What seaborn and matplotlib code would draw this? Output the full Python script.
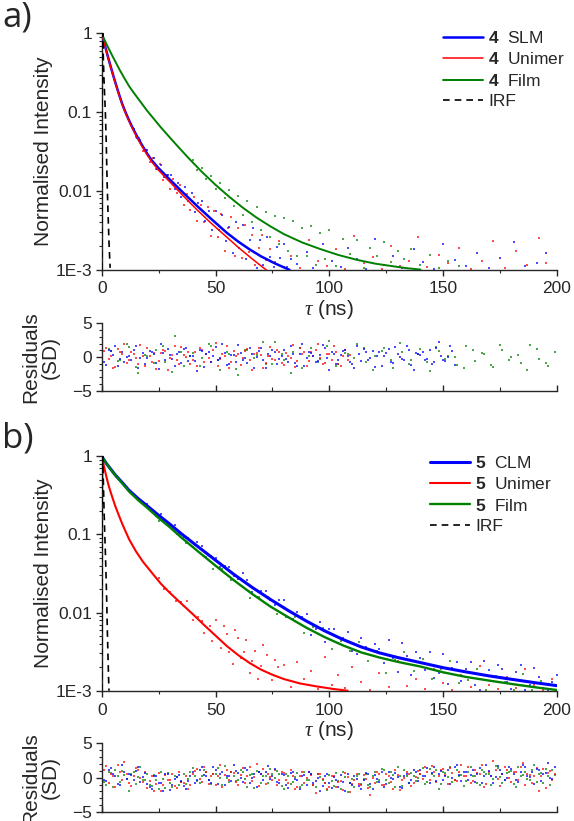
import matplotlib
matplotlib.use("Agg")
import matplotlib.pyplot as plt
from matplotlib.ticker import FixedLocator, MultipleLocator, NullFormatter
import pandas as pd
import seaborn as sns

# ---------------- fitted decay curves ----------------
fit_a_blue_t = [0, 1, 2, 3, 4, 5, 6, 7, 8, 9, 10, 11, 12, 13, 14, 16, 18, 20, 22, 25, 30, 36, 42, 48, 55,
                60, 65, 70, 76, 82.5]
fit_a_blue_i = [1.0, 0.776, 0.605, 0.473, 0.373, 0.296, 0.237, 0.191, 0.155, 0.127, 0.107, 0.0912, 0.0785,
                0.0681, 0.0596, 0.0462, 0.0367, 0.0295, 0.0243, 0.0193, 0.0138, 0.00933, 0.00638, 0.00442,
                0.00292, 0.00226, 0.0018, 0.00147, 0.0012, 0.00099]
fit_a_red_t = [0, 1, 2, 3, 4, 5, 6, 7, 8, 9, 10, 11, 12, 13, 14, 16, 18, 20, 22, 25, 30, 36, 42, 48, 55,
               60, 65, 70, 72.5]
fit_a_red_i = [1.0, 0.776, 0.6, 0.468, 0.367, 0.292, 0.233, 0.187, 0.152, 0.125, 0.105, 0.0891, 0.0766,
               0.0664, 0.0579, 0.0449, 0.0355, 0.0285, 0.0233, 0.0182, 0.0129, 0.00851, 0.00569, 0.00389,
               0.00257, 0.00191, 0.00145, 0.00111, 0.00098]
fit_a_green_t = [0, 1, 2, 3, 4.4, 6, 8, 10, 12, 14, 16, 20, 26, 32, 38, 44, 50, 56, 62, 68, 74, 80, 88,
                 96, 104, 112, 120, 128, 134, 140]
fit_a_green_i = [1.0, 0.855, 0.741, 0.646, 0.537, 0.437, 0.339, 0.268, 0.214, 0.177, 0.148, 0.1035, 0.0638,
                 0.0407, 0.0263, 0.0174, 0.0119, 0.0084, 0.0061, 0.00457, 0.00355, 0.00282, 0.00221,
                 0.00182, 0.00153, 0.00133, 0.00119, 0.0011, 0.00104, 0.001]

fit_b_t = [0, 2, 4, 6, 9, 12, 16, 20, 25, 30, 35, 42, 50, 58, 66, 74, 82, 90, 98, 106, 114, 122, 130,
           140, 150, 160, 170, 180, 190, 200]
fit_b_blue_i = [1.0, 0.813, 0.684, 0.575, 0.462, 0.367, 0.288, 0.232, 0.176, 0.135, 0.102, 0.0708, 0.0468,
                0.0309, 0.0211, 0.0148, 0.0106, 0.00776, 0.00582, 0.00452, 0.00363, 0.00305, 0.00266,
                0.00229, 0.00197, 0.00174, 0.00155, 0.0014, 0.00127, 0.00116]
fit_b_green_i = [1.0, 0.813, 0.676, 0.569, 0.452, 0.355, 0.275, 0.219, 0.162, 0.123, 0.0912, 0.0617, 0.0398,
                 0.026, 0.0174, 0.012, 0.00871, 0.00638, 0.00484, 0.0038, 0.00309, 0.00266, 0.00234,
                 0.00204, 0.00172, 0.0015, 0.00135, 0.00122, 0.00111, 0.00102]
fit_b_red_t = [0, 1, 2, 3, 4, 5, 6, 7, 8, 9, 10, 12, 15, 18, 22, 26, 30, 35, 40, 45, 50, 55, 60, 65, 70,
               75, 80, 87, 94, 101, 108]
fit_b_red_i = [1.0, 0.741, 0.556, 0.427, 0.343, 0.279, 0.229, 0.192, 0.162, 0.137, 0.1175, 0.0871, 0.061,
               0.0452, 0.0324, 0.0234, 0.0178, 0.013, 0.00955, 0.00692, 0.00507, 0.00372, 0.00285,
               0.00226, 0.00186, 0.0016, 0.00141, 0.00124, 0.00114, 0.00106, 0.001]

# instrument response functions
irf_a_t = [0.05, 0.15, 0.3, 0.45, 0.7, 1.0, 1.3, 1.6, 2.0, 2.4, 2.8, 3.2, 3.5, 3.7]
irf_a_i = [0.001, 0.05, 0.6, 1.0, 0.5, 0.26, 0.16, 0.1, 0.04, 0.012, 0.005, 0.0022, 0.0014, 0.00105]
irf_b_t = [0.05, 0.15, 0.3, 0.45, 0.7, 1.0, 1.3, 1.6, 1.9, 2.2, 2.5, 2.8, 3.0, 3.2]
irf_b_i = [0.001, 0.05, 0.6, 1.0, 0.5, 0.22, 0.11, 0.06, 0.03, 0.014, 0.0055, 0.0025, 0.0015, 0.001]

# ---------------- measured decay points ----------------
sc_a_blue_t = [14, 15.5, 17, 18.5, 20, 21.5, 23, 24.5, 26, 27.5, 29, 30.5, 32, 33.5, 35, 36.5, 38, 39.5,
               41, 42.5, 44, 45.5, 47, 48.5, 50, 51.5, 53, 54.5, 56, 57.5, 59, 60.5, 62, 63.5, 65, 66.5,
               68, 69.5, 71, 72.5, 74, 75.5, 77, 78.5, 80, 81.5, 83,
               86, 90, 93, 97, 101, 105, 108, 112, 116, 120, 124, 128, 132, 137, 141, 146, 150, 155, 160,
               165, 170, 175, 181, 186, 191, 195]
sc_a_blue_i = [0.0617, 0.0473, 0.0447, 0.0347, 0.0331, 0.0248, 0.0263, 0.0189, 0.0211, 0.0148, 0.0157,
               0.0158, 0.0106, 0.0124, 0.0083, 0.0111, 0.0075, 0.0094, 0.0054, 0.0071, 0.0074, 0.00417,
               0.0056, 0.00316, 0.0055, 0.00318, 0.00495, 0.00229, 0.0035, 0.00163, 0.00398, 0.00185,
               0.00367, 0.00136, 0.00237, 0.00339, 0.00106, 0.0024, 0.00114, 0.00258, 0.00145, 0.00109,
               0.00193, 0.0014, 0.00214, 0.00107, 0.00138,
               0.00118, 0.00165, 0.00104, 0.0021, 0.00128, 0.00108, 0.0019, 0.00135, 0.00102, 0.00245,
               0.00115, 0.0015, 0.00106, 0.0018, 0.00125, 0.00102, 0.0021, 0.00132, 0.0011, 0.0016,
               0.00104, 0.0014, 0.00225, 0.00112, 0.0012, 0.0016]
sc_a_red_t = [15, 16.5, 18, 19.5, 21, 22.5, 24, 25.5, 27, 28.5, 30, 31.5, 33, 34.5, 36, 37.5, 39, 40.5,
              42, 43.5, 45, 46.5, 48, 49.5, 51, 52.5, 54, 55.5, 57, 58.5, 60, 61.5, 63, 64.5, 66, 67.5,
              69, 70.5, 72, 74, 76, 78, 80,
              83, 87, 91, 95, 99, 103, 107, 111, 115, 119, 123, 127, 131, 135, 139, 143, 148, 152, 157,
              162, 167, 172, 177, 182, 187, 192, 195]
sc_a_red_i = [0.0479, 0.0468, 0.0316, 0.0327, 0.0234, 0.0263, 0.0191, 0.0216, 0.0138, 0.0158, 0.0106,
              0.0143, 0.0094, 0.012, 0.0066, 0.009, 0.00575, 0.0083, 0.00412, 0.00653, 0.00407, 0.00617,
              0.00263, 0.00562, 0.0026, 0.00501, 0.00174, 0.00335, 0.00468, 0.0015, 0.00339, 0.0014,
              0.00363, 0.00168, 0.00275, 0.00115, 0.00186, 0.00272, 0.00133, 0.0018, 0.00125, 0.0023,
              0.00108,
              0.0015, 0.00105, 0.0024, 0.0013, 0.00112, 0.0018, 0.00103, 0.0027, 0.0012, 0.00145, 0.00102,
              0.002, 0.0011, 0.0013, 0.0026, 0.00108, 0.00155, 0.0012, 0.0019, 0.00102, 0.0013, 0.0023,
              0.00105, 0.0017, 0.00115, 0.0025, 0.0012]
sc_a_green_t = [40, 42, 44, 46, 48, 50, 52, 54, 56, 58, 60, 62, 64, 66, 68, 70, 72, 74, 76, 78, 80, 82,
                84, 86, 88, 90, 92, 94, 96, 98, 100,
                103, 106, 109, 112, 115, 118, 121, 124, 127, 130, 133, 136,
                140, 144, 148, 152, 157]
sc_a_green_i = [0.0245, 0.0186, 0.0195, 0.014, 0.0155, 0.0106, 0.0124, 0.0082, 0.0101, 0.00646, 0.0085,
                0.00495, 0.00733, 0.00398, 0.0063, 0.00316, 0.00543, 0.00257, 0.00484, 0.00214, 0.00447,
                0.00174, 0.00412, 0.00148, 0.00335, 0.00148, 0.00355, 0.00115, 0.00288, 0.00138, 0.00316,
                0.0011, 0.00245, 0.00157, 0.00237, 0.00106, 0.00186, 0.00148, 0.00226, 0.00124, 0.0017,
                0.00138, 0.00182,
                0.00115, 0.00152, 0.00104, 0.0013, 0.0011]

sc_b_blue_t = [20, 24, 28, 32, 36, 40, 44, 48, 52, 56, 60, 64, 68, 72, 76, 80, 84, 88, 92, 96, 100, 104,
               108, 112, 116, 120, 124, 128, 132, 136, 140, 144, 148, 152, 156, 160, 164, 168, 172, 176,
               180, 184, 188, 192, 196, 200,
               22, 26, 30, 34, 38, 42, 46, 50, 54, 58, 62, 66, 70, 74, 78, 82, 86, 90, 94, 98, 102, 106,
               110, 114, 118, 122, 126, 130, 134, 138, 142, 146, 150, 154, 158, 162, 166, 170, 174, 178,
               182, 186, 190, 194, 198]
sc_b_blue_i = [0.245, 0.1726, 0.154, 0.1324, 0.0935, 0.0686, 0.0713, 0.0526, 0.0388, 0.0388, 0.0269, 0.0261,
               0.0157, 0.019, 0.01268, 0.0145, 0.00834, 0.00877, 0.00524, 0.00759, 0.00622, 0.00409,
               0.00571, 0.00296, 0.00359, 0.004, 0.00224, 0.00263, 0.00409, 0.00161, 0.00263, 0.00312,
               0.00169, 0.00121, 0.0023, 0.00191, 0.0012, 0.0024, 0.00132, 0.00192, 0.00104, 0.00214,
               0.00118, 0.0015, 0.00102, 0.0016,
               0.198, 0.181, 0.1321, 0.1014, 0.0908, 0.0791, 0.0508, 0.0506, 0.0391, 0.0294, 0.0321,
               0.01845, 0.0189, 0.01445, 0.01469, 0.00883, 0.01016, 0.00957, 0.00611, 0.00424, 0.00622,
               0.00468, 0.00323, 0.00472, 0.00283, 0.00338, 0.00452, 0.00176, 0.00275, 0.00311, 0.00185,
               0.00145, 0.00299, 0.00196, 0.00135, 0.00234, 0.00102, 0.00186, 0.00215, 0.0013, 0.00173,
               0.00101, 0.00193, 0.00107, 0.0013]
sc_b_green_t = [21, 25, 29, 33, 37, 41, 45, 49, 53, 57, 61, 65, 69, 73, 77, 81, 85, 89, 93, 97, 101, 105,
                109, 113, 117, 121, 125, 129, 133, 137, 141, 145, 149, 153, 157, 161, 165, 169, 173, 177,
                181, 185, 189, 193, 197]
sc_b_green_i = [0.2118, 0.1493, 0.1387, 0.1009, 0.0771, 0.0738, 0.0531, 0.0366, 0.0364, 0.0259, 0.0269,
                0.01556, 0.01585, 0.01567, 0.00959, 0.00885, 0.00889, 0.0054, 0.00655, 0.00628, 0.00342,
                0.00432, 0.00319, 0.00424, 0.00238, 0.00318, 0.00167, 0.00248, 0.00313, 0.0018, 0.00257,
                0.0014, 0.0019, 0.00239, 0.00127, 0.00136, 0.0019, 0.00103, 0.00154, 0.00131, 0.00102,
                0.00162, 0.00101, 0.00133, 0.00104]
sc_b_red_t = [25, 27.5, 30, 32.5, 35, 37.5, 40, 42.5, 45, 47.5, 50, 52.5, 55, 57.5, 60, 62.5, 65, 67.5,
              70, 72.5, 75, 77.5, 80,
              44, 48.5, 53.5, 56, 58.5, 61, 63.5, 66, 68.5, 71, 73.5, 76,
              83, 86, 89, 92, 95, 98, 101, 104, 107, 110, 114, 118, 122, 126, 130, 134, 138, 142, 146,
              150, 154, 158, 162, 166, 170, 174, 178, 182, 186, 190, 194, 198]
sc_b_red_i = [0.0274, 0.02, 0.0181, 0.014, 0.01365, 0.01403, 0.00813, 0.00871, 0.0055, 0.00679, 0.008,
              0.00354, 0.0053, 0.00217, 0.00473, 0.00311, 0.00167, 0.00324, 0.00206, 0.00286, 0.00138,
              0.00204, 0.00212,
              0.0079, 0.0043, 0.0068, 0.0031, 0.0059, 0.0026, 0.0045, 0.0024, 0.0014, 0.0038, 0.0017,
              0.0025,
              0.0011, 0.0023, 0.0014, 0.0018, 0.00105, 0.0027, 0.0012, 0.0016, 0.00108, 0.002, 0.0013,
              0.00102, 0.0017, 0.0011, 0.0024, 0.00115, 0.0014, 0.00104, 0.0019, 0.00125, 0.00103, 0.0016,
              0.0011, 0.0021, 0.00118, 0.00104, 0.0015, 0.00108, 0.0019, 0.0012, 0.00102, 0.0014]

# ---------------- weighted residuals (SD) ----------------
res_t = [0, 2, 4, 6, 8, 10, 12, 14, 16, 18, 20, 22, 24, 26, 28, 30, 32, 34, 36, 38, 40, 42, 44, 46, 48,
         50, 52, 54, 56, 58, 60, 62, 64, 66, 68, 70, 72, 74, 76, 78, 80, 82, 84, 86, 88, 90, 92, 94, 96,
         98, 100, 102, 104, 106, 108, 110, 112, 114, 116, 118, 120, 122, 124, 126, 128, 130, 132, 134,
         136, 138, 140, 142, 144, 146, 148, 150, 152, 154, 156, 158, 160, 162, 164, 166, 168, 170, 172,
         174, 176, 178, 180, 182, 184, 186, 188, 190, 192, 194, 196, 198]
res_t2 = [1, 3, 5, 7, 9, 11, 13, 15, 17, 19, 21, 23, 25, 27, 29, 31, 33, 35, 37, 39, 41, 43, 45, 47, 49,
          51, 53, 55, 57, 59, 61, 63, 65, 67, 69, 71, 73, 75, 77, 79, 81, 83, 85, 87, 89, 91, 93, 95, 97,
          99, 101, 103, 105, 107, 109, 111, 113, 115, 117, 119, 121, 123, 125, 127, 129, 131, 133, 135,
          137, 139, 141, 143, 145, 147, 149, 151, 153, 155, 157, 159, 161, 163, 165, 167, 169, 171, 173,
          175, 177, 179, 181, 183, 185, 187, 189, 191, 193, 195, 197, 199]

res_a_blue = [0.4, -1.2, 0.9, 1.6, -0.3, -0.8, 0.2, 1.1, -1.7, 0.6, -0.1, 0.8, -0.9, 1.9, -0.5, 0.3, -1.4,
              0.7, 1.2, -0.6, 0.1, -2.1, 0.9, 0.4, -0.7, 1.5, -0.2, 0.6, -1.1, 0.3, 1.8, -0.4, -0.9, 0.5,
              0.0, 1.3, -1.6, 0.2, 0.8, -0.3, 1.0, -0.7, 0.4, -1.3, 2.0, -0.1, 0.6, -0.8, 0.3, 1.4, -1.9,
              0.5, -0.4, 0.9, 0.2, -1.0, 1.6, -0.6, 0.7, -0.2, -1.5, 0.8, 0.1, 1.2, -0.9, 0.4, -0.3, 1.7,
              -1.2, 0.6, 0.3, -0.5, 1.1, -0.8, 2.2, -0.4, 0.0, 0.9]
res_a_blue2 = [-0.7, 1.1, 0.3, -1.4, 0.8, 0.0, -0.5, 1.7, -0.2, -1.1, 0.9, 0.4, -1.8, 0.6, 1.2, -0.3, 0.5,
               -0.9, 1.4, 0.1, -0.6, 1.0, -1.5, 0.7, 0.2, -0.4, 1.9, -1.2, 0.3, -0.8, 0.6, -0.1, 1.3,
               -1.7, 0.9, -0.5, 0.4, 1.1, -1.0, 0.2, -0.3, 1.6, -0.9, 0.5, -1.4, 0.8, 0.1, -0.6, 1.8,
               -0.2, 0.7, -1.1, 0.3, 1.0, -0.7, -1.6, 0.5, 1.2, -0.4, 0.9, 0.2, -1.3, 0.6, -0.8, 1.5,
               0.0, -0.5, 1.1, -1.9, 0.4, 0.8, -0.3, -1.0, 1.4, 0.2, -0.6, 1.7, -1.2]
res_a_red = [-0.6, 1.3, 0.2, -1.5, 0.8, 1.9, -0.4, 0.5, -1.0, 0.1, 1.4, -0.7, -1.8, 0.6, 0.9, -0.2, 1.7,
             -1.1, 0.3, 0.7, -0.5, -1.3, 1.0, 0.4, -0.8, 2.1, -0.3, 0.2, -1.6, 0.9, 0.5, -0.1, 1.2, -2.0,
             0.6, 0.3, -0.9, 1.5, -0.4, 0.8, -1.2, 0.1, 1.8, -0.6, 0.4, -1.4, 0.7, 1.1, -0.2, -0.9, 0.5,
             1.6, -1.1, 0.2, -0.5]
res_a_red2 = [0.9, -0.3, -1.6, 1.2, 0.4, -0.9, 0.7, -0.1, 1.8, -1.3, 0.2, 0.6, -0.6, 1.1, -1.9, 0.3, -0.4,
              1.5, 0.0, -1.0, 0.8, 1.3, -0.7, -0.2, 1.0, -1.4, 0.5, 1.7, -0.8, 0.1, -1.2, 0.9, -0.5, 0.4,
              1.4, -1.7, 0.2, -0.3, 1.1, -0.9, 0.6, -0.2, -1.5, 1.3, 0.7, -0.6, 0.1, 1.9, -1.1, 0.5, -0.4,
              0.8, -1.3, 1.0, 0.3]
res_a_green = [-1.8, 0.9, -0.4, 1.5, -2.3, 0.2, 1.1, -0.7, 3.1, -1.3, 0.6, -0.2, 1.7, -1.9, 0.4, -2.6,
               1.0, 0.3, -1.1, 2.2, -0.5, 0.8, -1.6, 1.3, -0.3, 2.4, -1.0, 0.5, 1.9, -0.8, 0.1, 1.4, -1.7,
               0.7, -0.4, 1.2, -2.1, 0.9, 0.2, -1.2, 1.6, -0.6, 0.4, -1.5, 1.1, 0.0, -0.9, 1.8, -0.3, -1.4]
res_a_green2 = [1.2, -0.6, 2.0, -1.5, 0.3, -0.9, 1.6, -2.2, 0.7, 0.1, -1.3, 1.9, -0.4, 0.8, -1.8, 1.1,
                -0.2, 2.3, -1.0, 0.5, -2.4, 1.4, 0.2, -0.7, 1.7, -1.4, 0.6, -0.1, 1.3, -1.9, 0.9, -0.5,
                2.1, -1.1, 0.4, -0.8, 1.5, -0.3, 0.0, -1.6, 1.0, 0.6, -1.2, 1.8, -0.5, 0.3, -2.0, 1.2,
                -0.9, 0.7]

res_b_blue = [0.8, -0.5, 1.4, 0.2, -1.1, 0.9, 0.5, -0.3, 1.6, 0.1, -0.9, -1.6, 0.3, -0.7, 0.6, -1.8, -0.2,
              0.4, -1.2, -0.5, 0.9, -0.4, 1.5, 0.3, -0.8, 1.1, 0.6, -1.0, 0.2, 1.9, 0.7, -0.6, 1.2, 0.0,
              -1.3, 0.5, 0.9, -0.2, 1.3, -0.7, 0.4, -1.5, 0.8, -0.3, 0.2, -1.1, 0.6, -0.5, -1.9, 0.3, -0.8,
              0.1, -1.4, -0.6, 0.5, -1.0, -0.2, -1.7, 0.7, -0.9, 0.4, -0.6, -1.3, 0.8, -0.2, 0.1, -1.5,
              0.5, -0.4, 0.9, 1.2, 0.3, -0.7, 1.6, 0.5, -0.3, 1.1, 0.0, 1.9, -0.5, 0.9, 0.4, -0.6, 1.4,
              0.2, 1.0, -0.8, 1.7, 0.6, -0.1, 1.3, -0.4, 0.8, 1.5, 0.1, -0.9, 1.1, 0.5, 2.1, -0.2]
res_b_blue2 = [-0.3, 1.1, 0.6, -0.9, 1.8, -0.2, 0.4, 1.0, -0.6, 0.7, -1.4, 0.2, -0.8, -2.0, 0.5, -1.1, 0.1,
               -0.5, -1.6, 0.3, -0.7, 1.2, 0.4, -0.3, 1.6, -0.9, 0.8, 0.2, -0.5, 1.0, -0.1, 1.4, -0.8,
               0.6, 0.9, -0.4, 1.7, 0.3, -0.6, 0.5, -1.0, 0.7, -0.2, -1.6, 0.4, 0.9, -0.7, 0.0, -1.2,
               0.6, -1.5, -0.3, 0.4, -1.9, -0.8, 0.2, -1.2, -0.4, 0.6, -1.6, -0.2, 0.9, -0.9, -0.1, 0.7,
               -1.3, 0.3, -0.7, 1.1, -0.5, 0.2, 1.4, 0.7, -0.5, 1.0, 0.3, -0.9, 1.5, 0.4, 0.9, -0.3,
               1.2, 0.6, -0.7, 1.8, 0.3, 0.1, 1.1, -0.4, 1.6, 0.5, -0.6, 1.9, 0.2, 0.9, 1.3, -0.5, 0.7,
               0.0, 1.5]
res_b_red = [-0.4, 1.7, 0.6, -1.3, 0.9, 2.3, -0.8, 0.3, 1.1, -0.6, -1.5, 0.2, -0.9, -2.0, 0.4, -0.3, -1.2,
             0.8, -0.7, -1.6, 0.5, 1.3, -0.6, 0.9, 0.2, -1.0, 1.8, 0.4, -0.3, 0.7, -1.1, 1.4, 0.3, -0.5,
             2.0, 0.6, -0.9, 0.1, 1.2, -0.4, 0.7, -0.8, 0.2, -1.4, 0.9, -0.1, 0.4, -2.2, 0.6, -0.7, -1.3,
             0.3, -0.6, -1.8, 0.1, -0.9, 0.5, -1.1, -0.2, -2.5, -0.7, 0.6, -1.0, 0.2, -1.6, 0.4, -0.3,
             0.9, -1.2, 0.1, 0.6, 1.5, -0.4, 0.9, 0.2, 1.3, -0.9, 0.7, -0.5, 1.8, 0.3, -0.7, 1.2, 0.5,
             -1.3, 0.9, 2.4, -0.2, 0.6, 1.1, -0.6, 0.8, 1.6, -1.0, 0.4, 0.2, -2.0, 1.3, 0.7, -0.3]
res_b_red2 = [1.1, -0.8, 0.3, 1.9, -0.4, 0.6, -1.2, 1.4, 0.0, 0.8, -0.5, -1.9, 0.7, -1.0, -0.3, 0.5, -1.5,
              -0.6, 0.2, -1.1, 1.0, -0.2, 1.6, -0.9, 0.5, 0.3, -1.4, 1.1, 0.8, -0.6, 0.4, -0.7, 1.5, 0.1,
              -1.2, 1.3, 0.6, -0.3, -1.0, 0.9, -0.4, 1.1, -1.6, 0.3, -0.7, 0.8, -1.1, 0.5, -0.2, -1.7,
              0.2, -1.4, -0.5, 0.7, -2.1, -0.3, -0.9, 0.4, -1.5, -0.1, 0.9, -1.1, 0.5, -0.6, 1.2, -1.8,
              0.0, 0.6, -0.8, 1.0, -0.2, 0.8, 1.7, -0.6, 1.1, 0.4, 1.4, -0.3, 0.9, 0.2, 1.5, -0.5, 0.7,
              1.9, -0.9, 0.3, 1.2, -1.2, 1.6, 0.0, 0.8, -0.4, 2.2, 0.6, -0.8, 1.4, 0.3, -1.5, 1.0, 0.5]
res_b_green = [0.2, -1.0, 0.7, 1.2, -0.6, 0.4, -1.9, 0.9, 0.1, -0.4, 0.5, -1.2, -0.3, 0.8, -1.5, -0.7, 0.3,
               -1.1, 0.6, -0.2, 1.4, -0.5, 0.2, 0.9, -0.9, 0.6, -0.1, 1.7, -0.6, 0.3, -0.4, 0.8, -1.3,
               0.5, 1.0, -0.8, 0.2, 1.3, -0.1, 0.6, -1.7, 0.3, -0.6, 0.7, -1.0, -0.3, 0.5, -1.4, 0.1,
               -0.8, 0.4, -1.2, -0.5, 0.9, -2.1, -0.2, 0.3, -0.9, 0.6, -1.4, 0.8, -0.3, 1.1, -0.7, 0.4,
               1.5, -1.2, 0.2, 0.7, -0.5, 0.6, -0.9, 1.3, 0.3, -1.6, 0.8, 0.1, -0.6, 1.2, 0.4, -0.5, 1.6,
               0.2, -1.1, 0.9, 0.5, -0.2, 1.4, -0.8, 0.7, 1.0, -1.3, 0.3, 0.8, -0.4, 1.9, 0.6, -0.7, 0.2,
               1.2]
res_b_green2 = [-0.6, 0.8, -1.3, 0.3, 1.0, -0.2, 0.6, -0.9, 1.5, -0.4, -1.0, 0.4, -1.6, -0.2, 0.7, -1.3,
                0.1, -0.6, -0.9, 0.9, 0.3, -0.8, 1.1, -0.3, 0.5, 1.4, -1.1, 0.0, 0.8, -0.5, 1.2, -0.2,
                0.4, -1.5, 0.9, 0.2, -0.7, 0.6, 1.0, -1.2, 0.5, -0.9, 0.1, -1.3, 0.8, -0.4, -1.1, 0.6,
                -0.3, -1.8, -0.5, 0.7, -1.6, 0.1, -0.8, -1.3, 0.5, -0.2, -1.0, 0.3, -0.6, 1.3, -0.4, 0.9,
                -1.4, 0.2, 1.1, -0.8, 0.3, -0.1, 1.4, -0.6, 0.5, 1.1, -0.9, 0.7, 1.6, -0.3, 0.2, -1.2,
                0.9, 0.3, -0.7, 1.2, 0.6, -1.0, 1.7, 0.1, -0.4, 0.8, -0.9, 1.5, 0.4, -0.2, 1.1, -0.6,
                0.7, 1.3, -1.1, 0.4]

BLUE, RED, GREEN = "#0000ff", "#ff0000", "#008000"

sns.set_style("ticks")
plt.rcParams["font.family"] = ["Liberation Sans", "DejaVu Sans"]
plt.rcParams["mathtext.fontset"] = "custom"
plt.rcParams["mathtext.rm"] = "Liberation Sans"
plt.rcParams["mathtext.bf"] = "Liberation Sans:bold"
plt.rcParams["mathtext.it"] = "Liberation Serif:italic"
plt.rcParams["axes.linewidth"] = 1.0

fig = plt.figure(figsize=(5.74, 8.21), dpi=100)
ax_a = fig.add_axes([0.1772, 0.6717, 0.7932, 0.2877])
ax_ra = fig.add_axes([0.1772, 0.5241, 0.7932, 0.0821])
ax_b = fig.add_axes([0.1772, 0.1587, 0.7932, 0.2855])
ax_rb = fig.add_axes([0.1772, 0.0110, 0.7932, 0.0834])


def dots(ax, t, v, color, size=3.5):
    df = pd.DataFrame({"t": t, "v": v})
    sns.scatterplot(data=df, x="t", y="v", ax=ax, color=color, s=size, marker="s",
                    linewidth=0, alpha=0.7, zorder=1, legend=False)


def curve(ax, t, v, color, lw, label, **kw):
    df = pd.DataFrame({"t": t, "v": v})
    sns.lineplot(data=df, x="t", y="v", ax=ax, color=color, lw=lw, label=label,
                 sort=False, estimator=None, zorder=3, **kw)


def decay_axes(ax):
    ax.set_yscale("log")
    ax.set_xlim(0, 200)
    ax.set_ylim(1e-3, 1)
    ax.set_yticks([1e-3, 1e-2, 1e-1, 1])
    ax.set_yticklabels(["1E-3", "0.01", "0.1", "1"])
    ax.yaxis.set_minor_locator(FixedLocator([m * 10.0 ** e for e in (-3, -2, -1) for m in range(2, 10)]))
    ax.yaxis.set_minor_formatter(NullFormatter())
    ax.xaxis.set_major_locator(MultipleLocator(50))
    ax.xaxis.set_minor_locator(MultipleLocator(25))
    ax.tick_params(axis="both", which="major", direction="out", length=4, width=1.0,
                   labelsize=12.5, pad=3)
    ax.tick_params(axis="x", which="major", pad=4.5)
    ax.tick_params(axis="both", which="minor", direction="out", length=2.5, width=0.8)
    ax.set_ylabel("Normalised Intensity", fontsize=15)
    ax.yaxis.set_label_coords(-0.108, 0.5)
    ax.set_xlabel(r"$\tau$ (ns)", fontsize=15)
    ax.xaxis.set_label_coords(0.5, -0.12)
    sns.despine(ax=ax)


def resid_axes(ax):
    ax.set_xlim(0, 200)
    ax.set_ylim(-5, 5)
    ax.set_yticks([-5, 0, 5])
    ax.yaxis.set_minor_locator(MultipleLocator(1))
    ax.xaxis.set_major_locator(MultipleLocator(50))
    ax.xaxis.set_minor_locator(MultipleLocator(25))
    ax.set_xticklabels([])
    ax.tick_params(axis="y", which="major", direction="out", length=4, width=1.0, labelsize=12.5, pad=3)
    ax.tick_params(axis="y", which="minor", direction="out", length=2.5, width=0.8)
    ax.tick_params(axis="x", which="major", direction="in", length=4.5, width=1.0)
    ax.tick_params(axis="x", which="minor", direction="in", length=3, width=0.8)
    ax.set_xlabel("")
    ax.set_ylabel("Residuals\n(SD)", fontsize=15, multialignment="center", linespacing=1.05)
    ax.yaxis.set_label_coords(-0.092, 0.5)
    sns.despine(ax=ax)


# ---- panel a ----
dots(ax_a, sc_a_green_t, sc_a_green_i, GREEN)
dots(ax_a, sc_a_red_t, sc_a_red_i, RED)
dots(ax_a, sc_a_blue_t, sc_a_blue_i, BLUE)
curve(ax_a, fit_a_blue_t, fit_a_blue_i, BLUE, 1.8, r"$\mathbf{4}$  SLM")
curve(ax_a, fit_a_red_t, fit_a_red_i, RED, 1.1, r"$\mathbf{4}$  Unimer")
curve(ax_a, fit_a_green_t, fit_a_green_i, GREEN, 1.4, r"$\mathbf{4}$  Film")
curve(ax_a, irf_a_t, irf_a_i, "black", 1.2, "IRF", linestyle=(0, (4, 3)))
decay_axes(ax_a)
ax_a.legend(loc="upper right", bbox_to_anchor=(1.018, 1.013), frameon=False, fontsize=12.5,
            handlelength=2.3, handletextpad=0.3, labelspacing=0.3, borderpad=0, borderaxespad=0)

dots(ax_ra, res_t[::2][:50], res_a_green, GREEN)
dots(ax_ra, res_t2[1::2], res_a_green2, GREEN)
dots(ax_ra, res_t[:55], res_a_red, RED)
dots(ax_ra, res_t2[:55], res_a_red2, RED)
dots(ax_ra, res_t[:78], res_a_blue, BLUE)
dots(ax_ra, res_t2[:78], res_a_blue2, BLUE)
resid_axes(ax_ra)

# ---- panel b ----
dots(ax_b, sc_b_red_t, sc_b_red_i, RED)
dots(ax_b, sc_b_green_t, sc_b_green_i, GREEN)
dots(ax_b, sc_b_blue_t, sc_b_blue_i, BLUE)
curve(ax_b, fit_b_t, fit_b_blue_i, BLUE, 2.2, r"$\mathbf{5}$  CLM")
curve(ax_b, fit_b_red_t, fit_b_red_i, RED, 1.5, r"$\mathbf{5}$  Unimer")
curve(ax_b, fit_b_t, fit_b_green_i, GREEN, 1.7, r"$\mathbf{5}$  Film")
curve(ax_b, irf_b_t, irf_b_i, "black", 1.2, "IRF", linestyle=(0, (4, 3)))
decay_axes(ax_b)
ax_b.legend(loc="upper right", bbox_to_anchor=(0.99, 1.005), frameon=False, fontsize=12.5,
            handlelength=2.3, handletextpad=0.3, labelspacing=0.3, borderpad=0, borderaxespad=0)

dots(ax_rb, res_t, res_b_green, GREEN)
dots(ax_rb, res_t2, res_b_green2, GREEN)
dots(ax_rb, res_t, res_b_red, RED)
dots(ax_rb, res_t2, res_b_red2, RED)
dots(ax_rb, res_t, res_b_blue, BLUE)
dots(ax_rb, res_t2, res_b_blue2, BLUE)
resid_axes(ax_rb)

fig.text(0.004, 0.999, "a)", fontsize=25, family=["Open Sans", "DejaVu Sans"], va="top")
fig.text(0.004, 0.487, "b)", fontsize=25, family=["Open Sans", "DejaVu Sans"], va="top")

fig.savefig("out.png", dpi=100)
